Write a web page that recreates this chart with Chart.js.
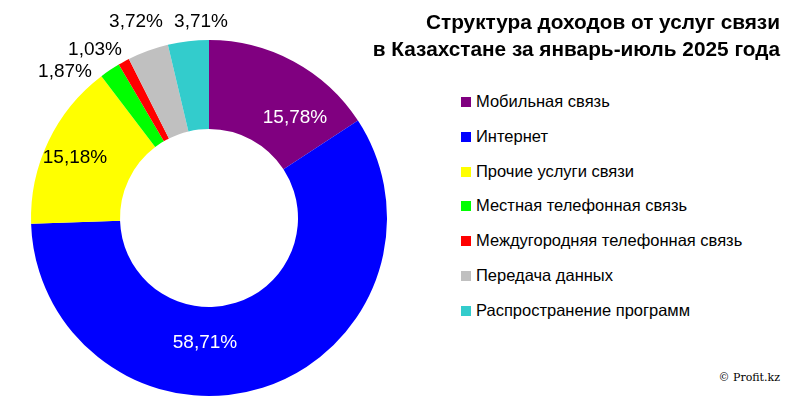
<!DOCTYPE html>
<html><head><meta charset="utf-8">
<script src="https://cdn.jsdelivr.net/npm/chart.js@4/dist/chart.umd.min.js"></script>
<style>
body{margin:0;width:800px;height:400px;background:#fff;position:relative;font-family:Arial,"Liberation Sans",sans-serif;overflow:hidden}
#wrap{position:absolute;left:0;top:0;width:420px;height:400px}
#title{position:absolute;right:20px;top:8px;text-align:right;font-weight:bold;font-size:20.8px;line-height:27px}
#legend{position:absolute;left:461px;top:92px;font-size:16.5px}
#legend div{height:34.8px;display:flex;align-items:flex-start;white-space:nowrap}
#legend span{display:inline-block;width:10px;height:10px;margin:5px 5px 0 0}
#copy{position:absolute;right:20px;top:371px;font-family:"DejaVu Serif",serif;font-size:11px}
</style></head><body>
<div id="wrap"><canvas id="c"></canvas></div>
<div id="title">Структура доходов от услуг связи<br>в Казахстане за январь-июль 2025 года</div>
<div id="legend"></div>
<div id="copy">© Profit.kz</div>
<script>
const categories = ['Мобильная связь', 'Интернет', 'Прочие услуги связи', 'Местная телефонная связь',
    'Междугородняя телефонная связь', 'Передача данных', 'Распространение программ'];
const values = [15.78, 58.71, 15.18, 1.87, 1.03, 3.72, 3.71];
const colors = ['#800080', '#0000ff', '#ffff00', '#00ff00', '#ff0000', '#c0c0c0', '#33cccc'];

// where each percentage label goes, relative to chart center
const labelSpots = [[86, -100, '#fff'], [-4, 125, '#fff'], [-134, -60, '#000'],
    [-144, -146, '#000'], [-114, -168, '#000'], [-73, -196, '#000'], [-8, -196, '#000']];

const legend = document.getElementById('legend');
categories.forEach((name, i) => {
    let d = document.createElement('div');
    d.innerHTML = `<span style="background:${colors[i]}"></span>${name}`;
    legend.appendChild(d);
});

const labelPlugin = {
    id: 'pctLabels',
    afterDatasetsDraw(chart) {
        const ctx = chart.ctx;
        const arc = chart.getDatasetMeta(0).data[0];
        ctx.save();
        ctx.font = '19px Arial, "Liberation Sans", sans-serif';
        ctx.textAlign = 'center';
        ctx.textBaseline = 'middle';
        values.forEach((v, i) => {
            const s = labelSpots[i];
            ctx.fillStyle = s[2];
            ctx.fillText(v.toFixed(2).replace('.', ',') + '%', arc.x + s[0], arc.y + s[1]);
        });
        ctx.restore();
    }
};

new Chart(document.getElementById('c'), {
    type: 'doughnut',
    data: {
        labels: categories,
        datasets: [{ data: values, backgroundColor: colors, borderWidth: 0 }]
    },
    options: {
        responsive: true,
        maintainAspectRatio: false,
        animation: false,
        cutout: '50%',
        layout: { padding: { left: 31, top: 40, right: 33, bottom: 4 } },
        plugins: { legend: { display: false }, tooltip: { enabled: false } }
    },
    plugins: [labelPlugin]
});
</script>
</body></html>
